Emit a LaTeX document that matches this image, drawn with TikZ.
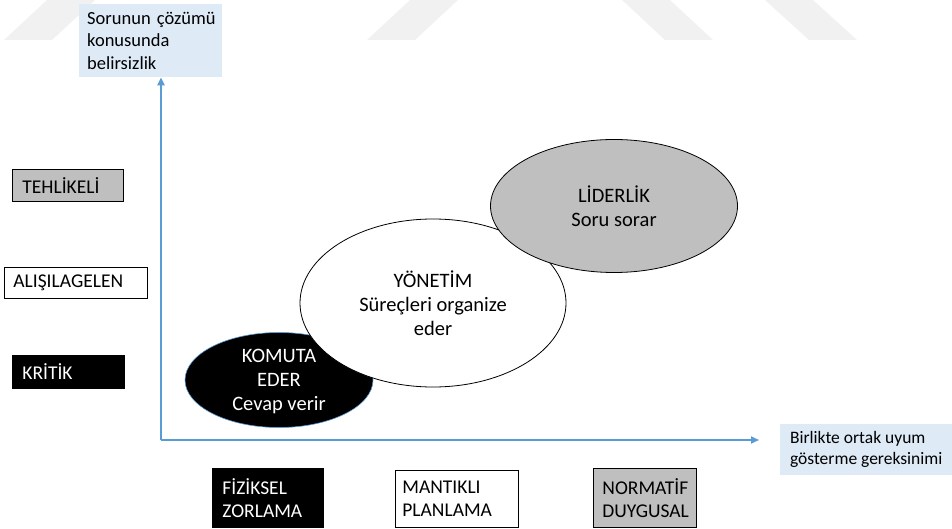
\documentclass[tikz,border=0pt]{standalone}
\usepackage{fontspec}
\setmainfont{Carlito}
\usetikzlibrary{shapes.geometric,arrows.meta}

\definecolor{axisblue}{HTML}{5B9BD5}
\definecolor{noteblue}{HTML}{DEEAF6}
\definecolor{midgray}{HTML}{BFBFBF}
\definecolor{markgray}{HTML}{F1F1F1}

\tikzset{
  axis/.style={draw=axisblue, line width=2pt, -{Triangle[length=8pt,width=7pt]}},
  tagbox/.style={rectangle, draw=black, line width=0.8pt, anchor=north west,
    align=left, inner xsep=10pt, inner ysep=0pt,
    font=\fontsize{19.5}{23}\selectfont},
  note/.style={rectangle, fill=noteblue, anchor=north west, align=left,
    inner xsep=8pt, inner ysep=0pt, font=\fontsize{18.5}{22.5}\selectfont},
  blob/.style={ellipse, inner sep=0pt, line width=0.8pt},
  blobtext/.style={align=center, inner sep=0pt, font=\fontsize{20.5}{24}\selectfont},
  stripe/.style={fill=markgray, draw=none}
}

\begin{document}
\begin{tikzpicture}[x=1pt,y=-1pt]
\useasboundingbox (0,0) rectangle (952,529);

% faint background stripes along the top edge
\fill[stripe] (47,0) -- (95,0) -- (52,40) -- (4,40) -- cycle;
\fill[stripe] (410,0) -- (458,0) -- (415,40) -- (367,40) -- cycle;
\fill[stripe] (622,0) -- (670,0) -- (713,40) -- (665,40) -- cycle;
\fill[stripe] (765,0) -- (813,0) -- (857,40) -- (809,40) -- cycle;

% axis captions
\node[note, text width=127pt, minimum height=73pt] (ylabel) at (79,4)
  {\mbox{Sorunun çözümü}\\konusunda\\belirsizlik};
\node[note, font=\fontsize{17.5}{21}\selectfont, minimum width=172pt, minimum height=51pt] (xlabel) at (780,424)
  {Birlikte ortak uyum\\gösterme gereksinimi};

% axes
\coordinate (origin) at (161,440);
\coordinate (xtip) at (759,440);
\draw[axis] (origin) -- (ylabel.south -| origin);
\draw[axis] (origin) -- (xtip);

% situation labels on the left
\node[tagbox, fill=midgray, text width=91pt, minimum height=32pt] (tehlikeli) at (12,169) {TEHLİKELİ};
\node[tagbox, fill=white, inner xsep=9pt, text width=125pt, minimum height=31pt] (alisilagelen) at (4,267) {ALIŞILAGELEN};
\node[tagbox, fill=black, text=white, text width=92pt, minimum height=33pt] (kritik) at (12,355) {KRİTİK};

% power labels at the bottom
\node[tagbox, fill=black, text=white, text width=91pt, minimum height=59pt] (fiziksel) at (212,468) {FİZİKSEL\\ZORLAMA};
\node[tagbox, fill=white, inner xsep=7pt, text width=109pt, minimum height=57pt] (mantikli) at (395,470) {MANTIKLI\\PLANLAMA};
\node[tagbox, fill=midgray, inner xsep=9pt, text width=85pt, minimum height=59pt] (normatif) at (593,468) {NORMATİF\\DUYGUSAL};

% the three roles
\node[blob, fill=black, draw=axisblue, line width=0.6pt, minimum width=188pt, minimum height=95pt] (komuta) at (279,380) {};
\node[blobtext, text=white] (komutatxt) at ([yshift=-1pt]komuta.center) {KOMUTA\\EDER\\Cevap verir};

\node[blob, fill=white, draw=black, minimum width=266pt, minimum height=168pt] (yonetim) at (433,303) {};
\node[blobtext] (yonetimtxt) at (yonetim.center) {YÖNETİM\\Süreçleri organize\\eder};

\node[blob, fill=midgray, draw=black, minimum width=247pt, minimum height=133pt] (liderlik) at (614,206) {};
\node[blobtext] (liderliktxt) at (liderlik.center) {LİDERLİK\\Soru sorar};
\end{tikzpicture}
\end{document}
